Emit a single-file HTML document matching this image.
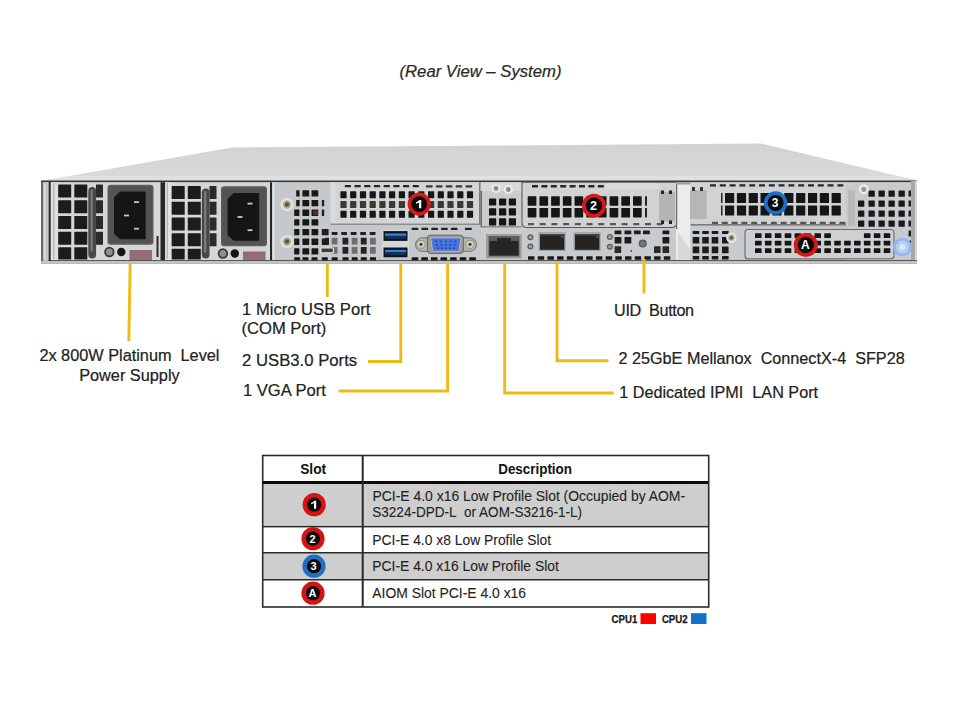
<!DOCTYPE html>
<html><head><meta charset="utf-8"><title>Rear View</title>
<style>
html,body{margin:0;padding:0;background:#fff;}
body{width:960px;height:720px;overflow:hidden;}
svg{display:block;font-family:"Liberation Sans",sans-serif;}
</style></head><body>
<svg width="960" height="720" viewBox="0 0 960 720">
<defs>
<linearGradient id="lid" x1="0" y1="0" x2="0" y2="1">
<stop offset="0" stop-color="#d2d2d2"/><stop offset="1" stop-color="#dadada"/>
</linearGradient>
</defs>
<rect x="0" y="0" width="960" height="720" fill="#fff"/>

<text x="399.5" y="76.8" font-size="16.7" fill="#2a2a2a" stroke="#2a2a2a" stroke-width="0.22" font-style="italic">(Rear View – System)</text>
<clipPath id="lidc"><polygon points="41,181 232,147.5 761,143.5 917,180.5"/></clipPath>
<polygon points="41,181 232,147.5 761,143.5 917,180.5" fill="url(#lid)"/>
<g clip-path="url(#lidc)">
<rect x="41.0" y="176.0" width="876.0" height="5.0" fill="#e0e0e0" />
</g>
<rect x="41.0" y="181.0" width="876.0" height="82.5" fill="#c4c6c8" />
<rect x="41.0" y="180.5" width="876.0" height="1.8" fill="#383838" />
<rect x="41.0" y="259.8" width="876.0" height="1.5" fill="#5a5a5a" />
<rect x="41.0" y="261.3" width="876.0" height="1.9" fill="#c8c8c8" />
<rect x="41.0" y="263.0" width="876.0" height="0.8" fill="#b0b0b0" />
<rect x="41.0" y="182.0" width="2.3" height="79.0" fill="#6a6a6a" />
<rect x="43.3" y="182.0" width="5.4" height="79.0" fill="#c6c6c6" />
<rect x="44.0" y="184.0" width="1.5" height="75.0" fill="#dedede" />
<rect x="48.7" y="182.0" width="2.1" height="79.0" fill="#262626" />
<rect x="50.8" y="182.3" width="1.7" height="77.7" fill="#dfe4e6" />
<rect x="52.0" y="182.3" width="109.0" height="77.7" fill="#d6d6d6" />
<rect x="52.0" y="182.3" width="5.5" height="77.7" fill="#e2e2e2" />
<rect x="53.0" y="183.0" width="1.5" height="76.0" fill="#b8b8b8" />
<rect x="58.2" y="184.6" width="13.0" height="13.0" fill="#1c1c1c" rx="0.5"/>
<rect x="58.2" y="200.3" width="13.0" height="13.0" fill="#1c1c1c" rx="0.5"/>
<rect x="58.2" y="216.0" width="13.0" height="13.0" fill="#1c1c1c" rx="0.5"/>
<rect x="58.2" y="231.7" width="13.0" height="13.0" fill="#1c1c1c" rx="0.5"/>
<rect x="74.3" y="184.6" width="13.0" height="13.0" fill="#1c1c1c" rx="0.5"/>
<rect x="74.3" y="200.3" width="13.0" height="13.0" fill="#1c1c1c" rx="0.5"/>
<rect x="74.3" y="216.0" width="13.0" height="13.0" fill="#1c1c1c" rx="0.5"/>
<rect x="74.3" y="231.7" width="13.0" height="13.0" fill="#1c1c1c" rx="0.5"/>
<rect x="58.2" y="247.3" width="13.0" height="12.2" fill="#1c1c1c" rx="0.5"/>
<rect x="74.3" y="247.3" width="13.0" height="12.2" fill="#1c1c1c" rx="0.5"/>
<rect x="96.0" y="184.6" width="7.0" height="13.0" fill="#2a2a26" rx="0.5"/>
<rect x="96.0" y="200.3" width="7.0" height="13.0" fill="#2a2a26" rx="0.5"/>
<rect x="96.0" y="216.0" width="7.0" height="13.0" fill="#2a2a26" rx="0.5"/>
<rect x="96.0" y="231.7" width="7.0" height="13.0" fill="#2a2a26" rx="0.5"/>
<rect x="88.3" y="187.0" width="7.8" height="71.5" rx="3.9" fill="#484848"/>
<rect x="90.6" y="189.5" width="2.2" height="62" rx="1.1" fill="#7c7c7c"/>
<rect x="107.5" y="184.8" width="46" height="60" rx="3" fill="#5c5c5c"/>
<rect x="109.0" y="186.3" width="43" height="57" rx="2" fill="#535353"/>
<path d="M120.0,191.5 L145.7,191.5 L145.7,239.3 L120.0,239.3 L114.0,233.5 L114.0,197.5 Z" fill="#151515"/>
<rect x="134.0" y="201.2" width="5.0" height="1.8" fill="#c8c8c8" />
<rect x="124.0" y="214.6" width="5.0" height="1.8" fill="#c8c8c8" />
<rect x="134.0" y="227.8" width="5.0" height="1.8" fill="#c8c8c8" />
<circle cx="109.4" cy="252.0" r="5.2" fill="#3a3a3a" />
<circle cx="109.4" cy="252.0" r="3.4" fill="#8e8e8e" />
<circle cx="121.3" cy="252.0" r="4.2" fill="#141414" />
<rect x="129.5" y="250.0" width="22.5" height="10.0" fill="#946c74" />
<rect x="154.0" y="183.0" width="7.0" height="77.0" fill="#d8d8d8" />
<rect x="156.5" y="236.0" width="2.0" height="21.0" fill="#2a2a2a" />
<rect x="165.5" y="182.3" width="109.0" height="77.7" fill="#d6d6d6" />
<rect x="165.5" y="182.3" width="5.5" height="77.7" fill="#e2e2e2" />
<rect x="166.5" y="183.0" width="1.5" height="76.0" fill="#b8b8b8" />
<rect x="171.7" y="186.1" width="13.0" height="13.0" fill="#1c1c1c" rx="0.5"/>
<rect x="171.7" y="201.8" width="13.0" height="13.0" fill="#1c1c1c" rx="0.5"/>
<rect x="171.7" y="217.5" width="13.0" height="13.0" fill="#1c1c1c" rx="0.5"/>
<rect x="171.7" y="233.2" width="13.0" height="13.0" fill="#1c1c1c" rx="0.5"/>
<rect x="187.8" y="186.1" width="13.0" height="13.0" fill="#1c1c1c" rx="0.5"/>
<rect x="187.8" y="201.8" width="13.0" height="13.0" fill="#1c1c1c" rx="0.5"/>
<rect x="187.8" y="217.5" width="13.0" height="13.0" fill="#1c1c1c" rx="0.5"/>
<rect x="187.8" y="233.2" width="13.0" height="13.0" fill="#1c1c1c" rx="0.5"/>
<rect x="171.7" y="248.8" width="13.0" height="10.7" fill="#1c1c1c" rx="0.5"/>
<rect x="187.8" y="248.8" width="13.0" height="10.7" fill="#1c1c1c" rx="0.5"/>
<rect x="209.5" y="186.1" width="7.0" height="13.0" fill="#2a2a26" rx="0.5"/>
<rect x="209.5" y="201.8" width="7.0" height="13.0" fill="#2a2a26" rx="0.5"/>
<rect x="209.5" y="217.5" width="7.0" height="13.0" fill="#2a2a26" rx="0.5"/>
<rect x="209.5" y="233.2" width="7.0" height="13.0" fill="#2a2a26" rx="0.5"/>
<rect x="201.8" y="188.5" width="7.8" height="70.0" rx="3.9" fill="#484848"/>
<rect x="204.1" y="191.0" width="2.2" height="62" rx="1.1" fill="#7c7c7c"/>
<rect x="221.0" y="186.3" width="46" height="60" rx="3" fill="#5c5c5c"/>
<rect x="222.5" y="187.8" width="43" height="57" rx="2" fill="#535353"/>
<path d="M233.5,193.0 L259.2,193.0 L259.2,240.8 L233.5,240.8 L227.5,235.0 L227.5,199.0 Z" fill="#151515"/>
<rect x="247.5" y="202.7" width="5.0" height="1.8" fill="#c8c8c8" />
<rect x="237.5" y="216.1" width="5.0" height="1.8" fill="#c8c8c8" />
<rect x="247.5" y="229.3" width="5.0" height="1.8" fill="#c8c8c8" />
<circle cx="222.9" cy="253.5" r="5.2" fill="#3a3a3a" />
<circle cx="222.9" cy="253.5" r="3.4" fill="#8e8e8e" />
<circle cx="234.8" cy="253.5" r="4.2" fill="#141414" />
<rect x="243.0" y="251.5" width="22.5" height="8.5" fill="#946c74" />
<rect x="267.5" y="183.0" width="7.0" height="77.0" fill="#d8d8d8" />
<rect x="270.0" y="237.5" width="2.0" height="19.5" fill="#2a2a2a" />
<rect x="160.5" y="182.3" width="4.5" height="77.7" fill="#262626" />
<rect x="270.0" y="182.3" width="2.4" height="77.7" fill="#262626" />
<rect x="272.4" y="182.3" width="208.1" height="77.5" fill="#c6c9cc" />
<rect x="272.4" y="182.3" width="2.1" height="77.5" fill="#e0e4e6" />
<rect x="302.4" y="190.2" width="6.8" height="6.3" fill="#181818" rx="0.6"/>
<rect x="302.4" y="200.0" width="6.8" height="6.3" fill="#181818" rx="0.6"/>
<rect x="302.4" y="209.6" width="6.8" height="6.3" fill="#181818" rx="0.6"/>
<rect x="302.4" y="219.3" width="6.8" height="6.3" fill="#181818" rx="0.6"/>
<rect x="302.4" y="229.0" width="6.8" height="6.3" fill="#181818" rx="0.6"/>
<rect x="302.4" y="238.6" width="6.8" height="6.3" fill="#181818" rx="0.6"/>
<rect x="302.4" y="248.3" width="6.8" height="6.3" fill="#181818" rx="0.6"/>
<rect x="311.5" y="190.2" width="6.8" height="6.3" fill="#181818" rx="0.6"/>
<rect x="311.5" y="200.0" width="6.8" height="6.3" fill="#181818" rx="0.6"/>
<rect x="311.5" y="209.6" width="6.8" height="6.3" fill="#181818" rx="0.6"/>
<rect x="311.5" y="219.3" width="6.8" height="6.3" fill="#181818" rx="0.6"/>
<rect x="311.5" y="229.0" width="6.8" height="6.3" fill="#181818" rx="0.6"/>
<rect x="311.5" y="238.6" width="6.8" height="6.3" fill="#181818" rx="0.6"/>
<rect x="311.5" y="248.3" width="6.8" height="6.3" fill="#181818" rx="0.6"/>
<rect x="294.2" y="209.6" width="5.2" height="6.3" fill="#181818" rx="0.5"/>
<rect x="294.2" y="219.3" width="5.2" height="6.3" fill="#181818" rx="0.5"/>
<rect x="294.2" y="229.0" width="5.2" height="6.3" fill="#181818" rx="0.5"/>
<rect x="294.2" y="238.6" width="5.2" height="6.3" fill="#181818" rx="0.5"/>
<rect x="294.2" y="248.3" width="5.2" height="6.3" fill="#181818" rx="0.5"/>
<rect x="296.2" y="190.2" width="3.4" height="6.3" fill="#181818" rx="0.4"/>
<rect x="296.2" y="200.0" width="3.4" height="6.3" fill="#181818" rx="0.4"/>
<rect x="321.8" y="200.0" width="2.4" height="6.3" fill="#222" rx="0.3"/>
<rect x="321.8" y="209.6" width="2.4" height="6.3" fill="#222" rx="0.3"/>
<rect x="321.8" y="229.0" width="6.8" height="6.3" fill="#1e1e1e" rx="0.5"/>
<rect x="321.8" y="238.6" width="6.8" height="6.3" fill="#1e1e1e" rx="0.5"/>
<rect x="313.0" y="210.5" width="5.0" height="4.5" fill="#5a2a30" />
<circle cx="287.0" cy="204.5" r="6.6" fill="#e6e4dc" />
<circle cx="287.0" cy="204.5" r="4.2" fill="#b0aa98" />
<circle cx="287.0" cy="204.5" r="2.2" fill="#5a564a" />
<circle cx="287.0" cy="241.5" r="6.6" fill="#e6e4dc" />
<circle cx="287.0" cy="241.5" r="4.2" fill="#b0aa98" />
<circle cx="287.0" cy="241.5" r="2.2" fill="#5a564a" />
<rect x="330.5" y="182.3" width="149.8" height="42.2" fill="#d2d4d6" />
<rect x="330.5" y="182.3" width="5.5" height="42.2" fill="#dadada" />
<rect x="330.5" y="223.5" width="149.8" height="1.5" fill="#8e8e8e" />
<rect x="479.0" y="182.3" width="2.0" height="42.7" fill="#7a7a7a" />
<rect x="344.8" y="185.0" width="6.2" height="2.3" fill="#262626" rx="0.3"/>
<rect x="354.5" y="185.0" width="6.2" height="2.3" fill="#262626" rx="0.3"/>
<rect x="364.2" y="185.0" width="6.2" height="2.3" fill="#262626" rx="0.3"/>
<rect x="373.9" y="185.0" width="6.2" height="2.3" fill="#262626" rx="0.3"/>
<rect x="383.6" y="185.0" width="6.2" height="2.3" fill="#262626" rx="0.3"/>
<rect x="393.3" y="185.0" width="6.2" height="2.3" fill="#262626" rx="0.3"/>
<rect x="403.0" y="185.0" width="6.2" height="2.3" fill="#262626" rx="0.3"/>
<rect x="412.7" y="185.0" width="6.2" height="2.3" fill="#262626" rx="0.3"/>
<rect x="426.0" y="185.2" width="6.6" height="2.2" fill="#3a3a3a" rx="0.3"/>
<rect x="435.9" y="185.2" width="6.6" height="2.2" fill="#3a3a3a" rx="0.3"/>
<rect x="445.8" y="185.2" width="6.6" height="2.2" fill="#3a3a3a" rx="0.3"/>
<rect x="455.7" y="185.2" width="6.6" height="2.2" fill="#3a3a3a" rx="0.3"/>
<rect x="465.6" y="185.2" width="6.6" height="2.2" fill="#3a3a3a" rx="0.3"/>
<rect x="340.4" y="191.3" width="6.2" height="7.0" fill="#161616" rx="0.6"/>
<rect x="340.4" y="210.8" width="6.2" height="7.0" fill="#161616" rx="0.6"/>
<rect x="350.1" y="191.3" width="6.2" height="7.0" fill="#161616" rx="0.6"/>
<rect x="350.1" y="210.8" width="6.2" height="7.0" fill="#161616" rx="0.6"/>
<rect x="359.9" y="191.3" width="6.2" height="7.0" fill="#161616" rx="0.6"/>
<rect x="359.9" y="210.8" width="6.2" height="7.0" fill="#161616" rx="0.6"/>
<rect x="369.6" y="191.3" width="6.2" height="7.0" fill="#161616" rx="0.6"/>
<rect x="369.6" y="210.8" width="6.2" height="7.0" fill="#161616" rx="0.6"/>
<rect x="379.3" y="191.3" width="6.2" height="7.0" fill="#161616" rx="0.6"/>
<rect x="379.3" y="210.8" width="6.2" height="7.0" fill="#161616" rx="0.6"/>
<rect x="389.0" y="191.3" width="6.2" height="7.0" fill="#161616" rx="0.6"/>
<rect x="389.0" y="210.8" width="6.2" height="7.0" fill="#161616" rx="0.6"/>
<rect x="398.8" y="191.3" width="6.2" height="7.0" fill="#161616" rx="0.6"/>
<rect x="398.8" y="210.8" width="6.2" height="7.0" fill="#161616" rx="0.6"/>
<rect x="408.5" y="191.3" width="6.2" height="7.0" fill="#161616" rx="0.6"/>
<rect x="408.5" y="210.8" width="6.2" height="7.0" fill="#161616" rx="0.6"/>
<rect x="418.2" y="191.3" width="6.2" height="7.0" fill="#161616" rx="0.6"/>
<rect x="418.2" y="210.8" width="6.2" height="7.0" fill="#161616" rx="0.6"/>
<rect x="428.0" y="191.3" width="6.2" height="7.0" fill="#161616" rx="0.6"/>
<rect x="428.0" y="210.8" width="6.2" height="7.0" fill="#161616" rx="0.6"/>
<rect x="437.7" y="191.3" width="6.2" height="7.0" fill="#161616" rx="0.6"/>
<rect x="437.7" y="210.8" width="6.2" height="7.0" fill="#161616" rx="0.6"/>
<rect x="447.4" y="191.3" width="6.2" height="7.0" fill="#161616" rx="0.6"/>
<rect x="447.4" y="210.8" width="6.2" height="7.0" fill="#161616" rx="0.6"/>
<rect x="457.2" y="191.3" width="6.2" height="7.0" fill="#161616" rx="0.6"/>
<rect x="457.2" y="210.8" width="6.2" height="7.0" fill="#161616" rx="0.6"/>
<rect x="466.9" y="191.3" width="6.2" height="7.0" fill="#161616" rx="0.6"/>
<rect x="466.9" y="210.8" width="6.2" height="7.0" fill="#161616" rx="0.6"/>
<rect x="340.4" y="201.0" width="6.2" height="7.0" fill="#3a3a30" rx="0.6"/>
<rect x="350.1" y="201.0" width="6.2" height="7.0" fill="#3a3a30" rx="0.6"/>
<rect x="359.9" y="201.0" width="6.2" height="7.0" fill="#3a3a30" rx="0.6"/>
<rect x="369.6" y="201.0" width="6.2" height="7.0" fill="#3a3a30" rx="0.6"/>
<rect x="379.3" y="201.0" width="6.2" height="7.0" fill="#3a3a30" rx="0.6"/>
<rect x="389.0" y="201.0" width="6.2" height="7.0" fill="#3a3a30" rx="0.6"/>
<rect x="398.8" y="201.0" width="6.2" height="7.0" fill="#3a3a30" rx="0.6"/>
<rect x="408.5" y="201.0" width="6.2" height="7.0" fill="#3a3a30" rx="0.6"/>
<rect x="418.2" y="201.0" width="6.2" height="7.0" fill="#3a3a30" rx="0.6"/>
<rect x="428.0" y="201.0" width="6.2" height="7.0" fill="#3a3a30" rx="0.6"/>
<rect x="437.7" y="201.0" width="6.2" height="7.0" fill="#3a3a30" rx="0.6"/>
<rect x="447.4" y="201.0" width="6.2" height="7.0" fill="#3a3a30" rx="0.6"/>
<rect x="457.2" y="201.0" width="6.2" height="7.0" fill="#3a3a30" rx="0.6"/>
<rect x="466.9" y="201.0" width="6.2" height="7.0" fill="#3a3a30" rx="0.6"/>
<circle cx="419.2" cy="204.1" r="11.6" fill="#d81818" />
<circle cx="419.2" cy="204.1" r="7.9" fill="#0a0a0a" />
<path d="M421.27,199.96 L421.27,208.24 L418.97,208.24 L418.97,202.44 Q417.59,203.44 415.98,203.60 L415.98,202.20 Q418.28,201.45 419.43,199.96 Z" fill="#fff"/>
<rect x="411.7" y="227.8" width="6.6" height="2.2" fill="#202020" rx="0.3"/>
<rect x="421.5" y="227.8" width="6.6" height="2.2" fill="#202020" rx="0.3"/>
<rect x="431.3" y="227.8" width="6.6" height="2.2" fill="#202020" rx="0.3"/>
<rect x="441.1" y="227.8" width="6.6" height="2.2" fill="#202020" rx="0.3"/>
<rect x="450.9" y="227.8" width="6.6" height="2.2" fill="#202020" rx="0.3"/>
<rect x="465.0" y="227.8" width="6.7" height="2.2" fill="#202020" />
<rect x="331.7" y="232.0" width="5.8" height="3.0" fill="#202020" rx="0.4"/>
<rect x="341.2" y="232.0" width="5.8" height="3.0" fill="#202020" rx="0.4"/>
<rect x="350.7" y="232.0" width="5.8" height="3.0" fill="#202020" rx="0.4"/>
<rect x="360.2" y="232.0" width="5.8" height="3.0" fill="#202020" rx="0.4"/>
<rect x="369.7" y="232.0" width="5.8" height="3.0" fill="#202020" rx="0.4"/>
<rect x="325.0" y="237.8" width="4.0" height="6.7" fill="#1e1e1e" />
<rect x="331.7" y="237.8" width="5.8" height="6.7" fill="#6e6e6e" rx="0.5"/>
<rect x="331.7" y="247.0" width="5.8" height="6.7" fill="#6e6e6e" rx="0.5"/>
<rect x="351.7" y="237.8" width="5.8" height="6.7" fill="#6e6e6e" rx="0.5"/>
<rect x="351.7" y="247.0" width="5.8" height="6.7" fill="#6e6e6e" rx="0.5"/>
<rect x="370.0" y="237.8" width="5.8" height="6.7" fill="#6e6e6e" rx="0.5"/>
<rect x="370.0" y="247.0" width="5.8" height="6.7" fill="#6e6e6e" rx="0.5"/>
<rect x="342.5" y="237.8" width="5.8" height="6.7" fill="#222" rx="0.5"/>
<rect x="342.5" y="247.0" width="5.8" height="6.7" fill="#222" rx="0.5"/>
<rect x="360.8" y="237.8" width="5.8" height="6.7" fill="#222" rx="0.5"/>
<rect x="360.8" y="247.0" width="5.8" height="6.7" fill="#222" rx="0.5"/>
<rect x="294.2" y="257.2" width="6.0" height="3.0" fill="#181818" rx="0.4"/>
<rect x="302.4" y="257.2" width="6.0" height="3.0" fill="#181818" rx="0.4"/>
<rect x="311.5" y="257.2" width="6.0" height="3.0" fill="#181818" rx="0.4"/>
<rect x="321.8" y="257.2" width="6.0" height="3.0" fill="#181818" rx="0.4"/>
<rect x="331.7" y="257.2" width="6.0" height="3.0" fill="#181818" rx="0.4"/>
<rect x="342.5" y="257.2" width="6.0" height="3.0" fill="#181818" rx="0.4"/>
<rect x="351.7" y="257.2" width="6.0" height="3.0" fill="#181818" rx="0.4"/>
<rect x="360.8" y="257.2" width="6.0" height="3.0" fill="#181818" rx="0.4"/>
<rect x="370.0" y="257.2" width="6.0" height="3.0" fill="#181818" rx="0.4"/>
<rect x="320.3" y="247.5" width="13.7" height="5.7" fill="#e4e4e4" />
<rect x="321.5" y="248.5" width="11.3" height="3.7" fill="#3c3c3c" />
<rect x="382.3" y="229.8" width="26.7" height="28.2" fill="#d6d8da" />
<rect x="383.5" y="231.1" width="24.0" height="9.8" fill="#0c141e" />
<rect x="385.0" y="233.4" width="21.0" height="2.5" fill="#3c7ad4" />
<rect x="385.0" y="235.9" width="21.0" height="3.0" fill="#12305c" />
<rect x="383.5" y="247.5" width="24.0" height="9.8" fill="#0c141e" />
<rect x="385.0" y="249.8" width="21.0" height="2.5" fill="#3c7ad4" />
<rect x="385.0" y="252.3" width="21.0" height="3.0" fill="#12305c" />
<rect x="415.5" y="237.8" width="61" height="13.6" rx="6.8" fill="#b4b2aa" stroke="#6a6a64" stroke-width="0.9"/>
<rect x="427.5" y="235.2" width="35.8" height="18.2" rx="3" fill="#a09e98" stroke="#5a5a56" stroke-width="0.9"/>
<path d="M431.5,238 L460.2,238 Q461,238 460.8,239 L458.8,250.6 Q458.6,251.3 457.8,251.3 L433.8,251.3 Q433,251.3 432.8,250.6 L430.9,239 Q430.7,238 431.5,238 Z" fill="#4a74dc" stroke="#c8d0e0" stroke-width="0.6"/>
<circle cx="436.2" cy="241.3" r="0.9" fill="#1e3e98" />
<circle cx="441.0" cy="241.3" r="0.9" fill="#1e3e98" />
<circle cx="445.8" cy="241.3" r="0.9" fill="#1e3e98" />
<circle cx="450.6" cy="241.3" r="0.9" fill="#1e3e98" />
<circle cx="455.4" cy="241.3" r="0.9" fill="#1e3e98" />
<circle cx="437.0" cy="244.8" r="0.9" fill="#1e3e98" />
<circle cx="441.4" cy="244.8" r="0.9" fill="#1e3e98" />
<circle cx="445.8" cy="244.8" r="0.9" fill="#1e3e98" />
<circle cx="450.2" cy="244.8" r="0.9" fill="#1e3e98" />
<circle cx="454.6" cy="244.8" r="0.9" fill="#1e3e98" />
<circle cx="437.8" cy="248.2" r="0.9" fill="#1e3e98" />
<circle cx="441.8" cy="248.2" r="0.9" fill="#1e3e98" />
<circle cx="445.8" cy="248.2" r="0.9" fill="#1e3e98" />
<circle cx="449.8" cy="248.2" r="0.9" fill="#1e3e98" />
<circle cx="453.8" cy="248.2" r="0.9" fill="#1e3e98" />
<polygon points="416.6,244.3 418.8,240.5 423.2,240.5 425.4,244.3 423.2,248.1 418.8,248.1" fill="#d6d4c8" stroke="#7a786e" stroke-width="0.6"/>
<circle cx="421.0" cy="244.3" r="1.6" fill="#3a3a34" />
<polygon points="465.6,244.3 467.8,240.5 472.2,240.5 474.4,244.3 472.2,248.1 467.8,248.1" fill="#d6d4c8" stroke="#7a786e" stroke-width="0.6"/>
<circle cx="470.0" cy="244.3" r="1.6" fill="#3a3a34" />
<rect x="411.7" y="257.2" width="6.6" height="3.0" fill="#181818" rx="0.4"/>
<rect x="421.3" y="257.2" width="6.6" height="3.0" fill="#181818" rx="0.4"/>
<rect x="430.9" y="257.2" width="6.6" height="3.0" fill="#181818" rx="0.4"/>
<rect x="440.5" y="257.2" width="6.6" height="3.0" fill="#181818" rx="0.4"/>
<rect x="450.1" y="257.2" width="6.6" height="3.0" fill="#181818" rx="0.4"/>
<rect x="459.7" y="257.2" width="6.6" height="3.0" fill="#181818" rx="0.4"/>
<rect x="469.3" y="257.2" width="6.6" height="3.0" fill="#181818" rx="0.4"/>
<rect x="480.5" y="182.3" width="41.5" height="77.5" fill="#caccce" />
<rect x="481.0" y="182.3" width="43.0" height="8.7" fill="#d8d8d8" />
<rect x="480.5" y="191.0" width="1.5" height="36.0" fill="#6a6a6a" />
<rect x="480.5" y="226.0" width="41.5" height="1.5" fill="#8a8a8a" />
<circle cx="496.0" cy="188.5" r="4.6" fill="#ececec" />
<circle cx="496.0" cy="188.5" r="2.4" fill="#8a8a8a" />
<circle cx="508.3" cy="189.5" r="4.6" fill="#ececec" />
<circle cx="508.3" cy="189.5" r="2.4" fill="#8a8a8a" />
<rect x="489.0" y="198.4" width="7.2" height="7.2" fill="#161616" rx="0.6"/>
<rect x="489.0" y="208.3" width="7.2" height="7.2" fill="#161616" rx="0.6"/>
<rect x="489.0" y="218.3" width="7.2" height="7.2" fill="#161616" rx="0.6"/>
<rect x="499.0" y="198.4" width="7.2" height="7.2" fill="#161616" rx="0.6"/>
<rect x="499.0" y="208.3" width="7.2" height="7.2" fill="#161616" rx="0.6"/>
<rect x="499.0" y="218.3" width="7.2" height="7.2" fill="#161616" rx="0.6"/>
<rect x="508.8" y="198.4" width="7.2" height="7.2" fill="#161616" rx="0.6"/>
<rect x="508.8" y="208.3" width="7.2" height="7.2" fill="#161616" rx="0.6"/>
<rect x="508.8" y="218.3" width="7.2" height="7.2" fill="#161616" rx="0.6"/>
<rect x="486.0" y="234.0" width="35.7" height="24.5" fill="#9c9ea0" />
<rect x="488.5" y="236.0" width="31.0" height="20.5" fill="#5c5c5c" />
<path d="M489.5,241 L497,241 L497,238 L511,238 L511,241 L518.5,241 L518.5,255.5 L489.5,255.5 Z" fill="#262626"/>
<path d="M522,182.3 L677,182.3 L677,222 Q677,227.5 671,227.5 L527,227.5 Q522,227.5 522,222 Z" fill="#d0d2d4" stroke="#5a5a5a" stroke-width="1.1"/>
<rect x="532.0" y="185.0" width="6.0" height="2.6" fill="#262626" rx="0.3"/>
<rect x="541.4" y="185.0" width="6.0" height="2.6" fill="#262626" rx="0.3"/>
<rect x="550.8" y="185.0" width="6.0" height="2.6" fill="#262626" rx="0.3"/>
<rect x="560.2" y="185.0" width="6.0" height="2.6" fill="#262626" rx="0.3"/>
<rect x="569.6" y="185.0" width="6.0" height="2.6" fill="#262626" rx="0.3"/>
<rect x="579.0" y="185.0" width="6.0" height="2.6" fill="#262626" rx="0.3"/>
<rect x="588.4" y="185.0" width="6.0" height="2.6" fill="#262626" rx="0.3"/>
<rect x="597.8" y="185.0" width="6.0" height="2.6" fill="#262626" rx="0.3"/>
<rect x="606.0" y="183.0" width="54.0" height="6.0" fill="#d8dadc" />
<rect x="527.7" y="196.3" width="8.7" height="9.4" fill="#161616" rx="0.6"/>
<rect x="527.7" y="208.0" width="8.7" height="9.4" fill="#161616" rx="0.6"/>
<rect x="539.4" y="196.3" width="8.7" height="9.4" fill="#161616" rx="0.6"/>
<rect x="539.4" y="208.0" width="8.7" height="9.4" fill="#161616" rx="0.6"/>
<rect x="551.1" y="196.3" width="8.7" height="9.4" fill="#161616" rx="0.6"/>
<rect x="551.1" y="208.0" width="8.7" height="9.4" fill="#161616" rx="0.6"/>
<rect x="562.8" y="196.3" width="8.7" height="9.4" fill="#161616" rx="0.6"/>
<rect x="562.8" y="208.0" width="8.7" height="9.4" fill="#161616" rx="0.6"/>
<rect x="574.5" y="196.3" width="8.7" height="9.4" fill="#161616" rx="0.6"/>
<rect x="574.5" y="208.0" width="8.7" height="9.4" fill="#161616" rx="0.6"/>
<rect x="586.2" y="196.3" width="8.7" height="9.4" fill="#161616" rx="0.6"/>
<rect x="586.2" y="208.0" width="8.7" height="9.4" fill="#161616" rx="0.6"/>
<rect x="597.9" y="196.3" width="8.7" height="9.4" fill="#161616" rx="0.6"/>
<rect x="597.9" y="208.0" width="8.7" height="9.4" fill="#161616" rx="0.6"/>
<rect x="609.6" y="196.3" width="8.7" height="9.4" fill="#161616" rx="0.6"/>
<rect x="609.6" y="208.0" width="8.7" height="9.4" fill="#161616" rx="0.6"/>
<rect x="621.3" y="196.3" width="8.7" height="9.4" fill="#161616" rx="0.6"/>
<rect x="621.3" y="208.0" width="8.7" height="9.4" fill="#161616" rx="0.6"/>
<rect x="633.0" y="196.3" width="8.7" height="9.4" fill="#161616" rx="0.6"/>
<rect x="633.0" y="208.0" width="8.7" height="9.4" fill="#161616" rx="0.6"/>
<rect x="645.0" y="196.3" width="2.0" height="9.4" fill="#222" />
<rect x="645.0" y="208.0" width="2.0" height="9.4" fill="#222" />
<rect x="528.0" y="223.0" width="6.0" height="2.2" fill="#555" rx="0.3"/>
<rect x="539.7" y="223.0" width="6.0" height="2.2" fill="#555" rx="0.3"/>
<rect x="551.4" y="223.0" width="6.0" height="2.2" fill="#555" rx="0.3"/>
<rect x="563.1" y="223.0" width="6.0" height="2.2" fill="#555" rx="0.3"/>
<rect x="574.8" y="223.0" width="6.0" height="2.2" fill="#555" rx="0.3"/>
<rect x="586.5" y="223.0" width="6.0" height="2.2" fill="#555" rx="0.3"/>
<rect x="598.2" y="223.0" width="6.0" height="2.2" fill="#555" rx="0.3"/>
<rect x="609.9" y="223.0" width="6.0" height="2.2" fill="#555" rx="0.3"/>
<rect x="621.6" y="223.0" width="6.0" height="2.2" fill="#555" rx="0.3"/>
<rect x="633.3" y="223.0" width="6.0" height="2.2" fill="#555" rx="0.3"/>
<rect x="645.0" y="223.0" width="6.0" height="2.2" fill="#555" rx="0.3"/>
<rect x="656.7" y="223.0" width="6.0" height="2.2" fill="#555" rx="0.3"/>
<rect x="659.0" y="191.7" width="16.0" height="30.0" fill="#b2b4b6" />
<rect x="661.0" y="190.5" width="3.0" height="3.5" fill="#222" />
<rect x="669.0" y="190.5" width="3.0" height="3.5" fill="#222" />
<rect x="661.0" y="220.5" width="3.0" height="3.5" fill="#222" />
<rect x="669.0" y="220.5" width="3.0" height="3.5" fill="#222" />
<circle cx="594.0" cy="205.7" r="12.0" fill="#d81818" />
<circle cx="594.0" cy="205.7" r="8.2" fill="#0a0a0a" />
<text x="593.5" y="210.2" font-size="12.5" font-weight="bold" fill="#fff" text-anchor="middle">2</text>
<rect x="522.0" y="228.5" width="155.0" height="31.3" fill="#c8cbcd" />
<rect x="538.4" y="232.0" width="27.4" height="19.0" fill="#a6a8aa" />
<rect x="539.9" y="234.2" width="24.5" height="15.6" fill="#262422" />
<rect x="539.9" y="234.2" width="24.5" height="1.4" fill="#4a4846" />
<circle cx="562.4" cy="236.8" r="1.2" fill="#5a5a5a" />
<rect x="573.4" y="232.0" width="27.4" height="19.0" fill="#a6a8aa" />
<rect x="574.9" y="234.2" width="24.5" height="15.6" fill="#262422" />
<rect x="574.9" y="234.2" width="24.5" height="1.4" fill="#4a4846" />
<circle cx="597.4" cy="236.8" r="1.2" fill="#5a5a5a" />
<circle cx="530.4" cy="237.3" r="3.0" fill="#5a5a5a" />
<circle cx="530.4" cy="237.3" r="1.8" fill="#a0a0a0" />
<circle cx="530.4" cy="246.5" r="3.0" fill="#5a5a5a" />
<circle cx="530.4" cy="246.5" r="1.8" fill="#a0a0a0" />
<circle cx="609.9" cy="236.9" r="3.0" fill="#5a5a5a" />
<circle cx="609.9" cy="236.9" r="1.8" fill="#a0a0a0" />
<circle cx="609.9" cy="246.8" r="3.0" fill="#5a5a5a" />
<circle cx="609.9" cy="246.8" r="1.8" fill="#a0a0a0" />
<rect x="614.6" y="230.6" width="6.8" height="3.7" fill="#1c1c1c" rx="0.4"/>
<rect x="624.5" y="230.6" width="6.8" height="3.7" fill="#1c1c1c" rx="0.4"/>
<rect x="633.9" y="230.6" width="6.8" height="3.7" fill="#1c1c1c" rx="0.4"/>
<rect x="643.0" y="230.6" width="6.8" height="3.7" fill="#1c1c1c" rx="0.4"/>
<rect x="662.5" y="230.6" width="6.8" height="3.7" fill="#1c1c1c" rx="0.4"/>
<rect x="614.6" y="236.9" width="6.8" height="6.7" fill="#1c1c1c" rx="0.5"/>
<rect x="624.5" y="236.9" width="6.8" height="6.7" fill="#1c1c1c" rx="0.5"/>
<rect x="662.5" y="236.9" width="6.8" height="6.7" fill="#1c1c1c" rx="0.5"/>
<rect x="614.6" y="246.2" width="6.6" height="6.7" fill="#2a2a22" rx="0.5"/>
<rect x="654.0" y="246.2" width="6.6" height="6.7" fill="#2a2a22" rx="0.5"/>
<rect x="662.5" y="246.2" width="6.6" height="6.7" fill="#2a2a22" rx="0.5"/>
<circle cx="642.7" cy="243.6" r="4.0" fill="#5a5a5a" />
<circle cx="642.7" cy="243.6" r="2.6" fill="#777" />
<circle cx="631.3" cy="251.0" r="0.9" fill="#444" />
<rect x="528.0" y="256.2" width="6.5" height="3.5" fill="#181818" rx="0.4"/>
<rect x="537.7" y="256.2" width="6.5" height="3.5" fill="#181818" rx="0.4"/>
<rect x="547.4" y="256.2" width="6.5" height="3.5" fill="#181818" rx="0.4"/>
<rect x="557.1" y="256.2" width="6.5" height="3.5" fill="#181818" rx="0.4"/>
<rect x="566.8" y="256.2" width="6.5" height="3.5" fill="#181818" rx="0.4"/>
<rect x="576.5" y="256.2" width="6.5" height="3.5" fill="#181818" rx="0.4"/>
<rect x="586.2" y="256.2" width="6.5" height="3.5" fill="#181818" rx="0.4"/>
<rect x="595.9" y="256.2" width="6.5" height="3.5" fill="#181818" rx="0.4"/>
<rect x="605.6" y="256.2" width="6.5" height="3.5" fill="#181818" rx="0.4"/>
<rect x="615.3" y="256.2" width="6.5" height="3.5" fill="#181818" rx="0.4"/>
<rect x="625.0" y="256.2" width="6.5" height="3.5" fill="#181818" rx="0.4"/>
<rect x="634.7" y="256.2" width="6.5" height="3.5" fill="#181818" rx="0.4"/>
<rect x="644.4" y="256.2" width="6.5" height="3.5" fill="#181818" rx="0.4"/>
<rect x="654.1" y="256.2" width="6.5" height="3.5" fill="#181818" rx="0.4"/>
<rect x="663.8" y="256.2" width="6.5" height="3.5" fill="#181818" rx="0.4"/>
<rect x="676.0" y="182.3" width="14.5" height="77.5" fill="#ececec" />
<rect x="676.0" y="183.0" width="1.2" height="46.0" fill="#6a6a6a" />
<rect x="676.0" y="182.3" width="14.5" height="2.2" fill="#9a9a9a" />
<path d="M678,232 L690.5,250 L690.5,259.8 L678,259.8 Z" fill="#d8d8d8"/>
<rect x="690.5" y="182.3" width="155.5" height="42.2" fill="#d0d2d4" />
<rect x="690.5" y="224.0" width="155.5" height="1.6" fill="#7a7a7a" />
<rect x="690.0" y="190.0" width="16.7" height="29.0" fill="#b4b6b8" />
<rect x="692.0" y="187.0" width="3.0" height="4.0" fill="#333" />
<rect x="700.0" y="187.0" width="3.0" height="4.0" fill="#333" />
<rect x="710.0" y="184.2" width="6.0" height="2.4" fill="#262626" rx="0.3"/>
<rect x="719.8" y="184.2" width="6.0" height="2.4" fill="#262626" rx="0.3"/>
<rect x="729.6" y="184.2" width="6.0" height="2.4" fill="#262626" rx="0.3"/>
<rect x="739.4" y="184.2" width="6.0" height="2.4" fill="#262626" rx="0.3"/>
<rect x="749.2" y="184.2" width="6.0" height="2.4" fill="#262626" rx="0.3"/>
<rect x="759.0" y="184.2" width="6.0" height="2.4" fill="#262626" rx="0.3"/>
<rect x="768.8" y="184.2" width="6.0" height="2.4" fill="#262626" rx="0.3"/>
<rect x="778.6" y="184.2" width="6.0" height="2.4" fill="#262626" rx="0.3"/>
<rect x="788.4" y="184.2" width="6.0" height="2.4" fill="#262626" rx="0.3"/>
<rect x="798.2" y="184.2" width="6.0" height="2.4" fill="#262626" rx="0.3"/>
<rect x="808.0" y="184.2" width="6.0" height="2.4" fill="#262626" rx="0.3"/>
<rect x="817.8" y="184.2" width="6.0" height="2.4" fill="#262626" rx="0.3"/>
<rect x="827.6" y="184.2" width="6.0" height="2.4" fill="#262626" rx="0.3"/>
<rect x="837.4" y="184.2" width="6.0" height="2.4" fill="#262626" rx="0.3"/>
<rect x="721.0" y="193.0" width="1.5" height="10.0" fill="#222" />
<rect x="721.0" y="205.5" width="1.5" height="10.0" fill="#222" />
<rect x="725.0" y="193.0" width="9.2" height="10.0" fill="#161616" rx="0.6"/>
<rect x="725.0" y="205.5" width="9.2" height="10.0" fill="#161616" rx="0.6"/>
<rect x="736.9" y="193.0" width="9.2" height="10.0" fill="#161616" rx="0.6"/>
<rect x="736.9" y="205.5" width="9.2" height="10.0" fill="#161616" rx="0.6"/>
<rect x="748.7" y="193.0" width="9.2" height="10.0" fill="#161616" rx="0.6"/>
<rect x="748.7" y="205.5" width="9.2" height="10.0" fill="#161616" rx="0.6"/>
<rect x="760.5" y="193.0" width="9.2" height="10.0" fill="#161616" rx="0.6"/>
<rect x="760.5" y="205.5" width="9.2" height="10.0" fill="#161616" rx="0.6"/>
<rect x="772.4" y="193.0" width="9.2" height="10.0" fill="#161616" rx="0.6"/>
<rect x="772.4" y="205.5" width="9.2" height="10.0" fill="#161616" rx="0.6"/>
<rect x="784.2" y="193.0" width="9.2" height="10.0" fill="#161616" rx="0.6"/>
<rect x="784.2" y="205.5" width="9.2" height="10.0" fill="#161616" rx="0.6"/>
<rect x="796.1" y="193.0" width="9.2" height="10.0" fill="#161616" rx="0.6"/>
<rect x="796.1" y="205.5" width="9.2" height="10.0" fill="#161616" rx="0.6"/>
<rect x="808.0" y="193.0" width="9.2" height="10.0" fill="#161616" rx="0.6"/>
<rect x="808.0" y="205.5" width="9.2" height="10.0" fill="#161616" rx="0.6"/>
<rect x="819.8" y="193.0" width="9.2" height="10.0" fill="#161616" rx="0.6"/>
<rect x="819.8" y="205.5" width="9.2" height="10.0" fill="#161616" rx="0.6"/>
<rect x="831.6" y="193.0" width="9.2" height="10.0" fill="#161616" rx="0.6"/>
<rect x="831.6" y="205.5" width="9.2" height="10.0" fill="#161616" rx="0.6"/>
<rect x="712.0" y="221.8" width="6.0" height="2.2" fill="#555" rx="0.3"/>
<rect x="721.8" y="221.8" width="6.0" height="2.2" fill="#555" rx="0.3"/>
<rect x="731.6" y="221.8" width="6.0" height="2.2" fill="#555" rx="0.3"/>
<rect x="741.4" y="221.8" width="6.0" height="2.2" fill="#555" rx="0.3"/>
<rect x="751.2" y="221.8" width="6.0" height="2.2" fill="#555" rx="0.3"/>
<rect x="761.0" y="221.8" width="6.0" height="2.2" fill="#555" rx="0.3"/>
<rect x="770.8" y="221.8" width="6.0" height="2.2" fill="#555" rx="0.3"/>
<rect x="780.6" y="221.8" width="6.0" height="2.2" fill="#555" rx="0.3"/>
<rect x="790.4" y="221.8" width="6.0" height="2.2" fill="#555" rx="0.3"/>
<rect x="800.2" y="221.8" width="6.0" height="2.2" fill="#555" rx="0.3"/>
<rect x="810.0" y="221.8" width="6.0" height="2.2" fill="#555" rx="0.3"/>
<rect x="819.8" y="221.8" width="6.0" height="2.2" fill="#555" rx="0.3"/>
<rect x="829.6" y="221.8" width="6.0" height="2.2" fill="#555" rx="0.3"/>
<rect x="839.4" y="221.8" width="6.0" height="2.2" fill="#555" rx="0.3"/>
<circle cx="775.6" cy="203.0" r="11.7" fill="#1f6fc4" />
<circle cx="775.6" cy="203.0" r="8.0" fill="#0a0a0a" />
<text x="775.1" y="207.3" font-size="12" font-weight="bold" fill="#fff" text-anchor="middle">3</text>
<rect x="690.5" y="226.0" width="54.5" height="33.8" fill="#c8cbcd" />
<rect x="692.7" y="237.0" width="6.6" height="6.6" fill="#1c1c1c" rx="0.5"/>
<rect x="692.7" y="246.6" width="6.6" height="6.6" fill="#1c1c1c" rx="0.5"/>
<rect x="702.2" y="237.0" width="6.6" height="6.6" fill="#1c1c1c" rx="0.5"/>
<rect x="702.2" y="246.6" width="6.6" height="6.6" fill="#1c1c1c" rx="0.5"/>
<rect x="711.7" y="237.0" width="6.6" height="6.6" fill="#1c1c1c" rx="0.5"/>
<rect x="711.7" y="246.6" width="6.6" height="6.6" fill="#1c1c1c" rx="0.5"/>
<rect x="722.0" y="237.0" width="6.6" height="6.6" fill="#1c1c1c" rx="0.5"/>
<rect x="722.0" y="246.6" width="6.6" height="6.6" fill="#1c1c1c" rx="0.5"/>
<rect x="692.7" y="231.0" width="6.6" height="3.0" fill="#1c1c1c" rx="0.4"/>
<rect x="702.2" y="231.0" width="6.6" height="3.0" fill="#1c1c1c" rx="0.4"/>
<rect x="711.7" y="231.0" width="6.6" height="3.0" fill="#1c1c1c" rx="0.4"/>
<rect x="722.0" y="231.0" width="6.6" height="3.0" fill="#1c1c1c" rx="0.4"/>
<rect x="692.7" y="256.0" width="6.6" height="3.5" fill="#1c1c1c" rx="0.4"/>
<rect x="702.2" y="256.0" width="6.6" height="3.5" fill="#1c1c1c" rx="0.4"/>
<rect x="711.7" y="256.0" width="6.6" height="3.5" fill="#1c1c1c" rx="0.4"/>
<rect x="722.0" y="256.0" width="6.6" height="3.5" fill="#1c1c1c" rx="0.4"/>
<circle cx="731.4" cy="237.8" r="5.2" fill="#e6e4dc" />
<circle cx="731.4" cy="237.8" r="3.0" fill="#a6a090" />
<circle cx="731.4" cy="237.8" r="1.5" fill="#5a564a" />
<rect x="846.0" y="182.3" width="71.0" height="77.5" fill="#c8cbcd" />
<rect x="848.0" y="190.0" width="7.0" height="36.0" fill="#b8babc" />
<rect x="868.5" y="190.5" width="6.3" height="6.3" fill="#181818" rx="0.5"/>
<rect x="868.5" y="200.5" width="6.3" height="6.3" fill="#181818" rx="0.5"/>
<rect x="868.5" y="210.5" width="6.3" height="6.3" fill="#181818" rx="0.5"/>
<rect x="868.5" y="220.5" width="6.3" height="6.3" fill="#181818" rx="0.5"/>
<rect x="878.5" y="190.5" width="6.3" height="6.3" fill="#181818" rx="0.5"/>
<rect x="878.5" y="200.5" width="6.3" height="6.3" fill="#181818" rx="0.5"/>
<rect x="878.5" y="210.5" width="6.3" height="6.3" fill="#181818" rx="0.5"/>
<rect x="878.5" y="220.5" width="6.3" height="6.3" fill="#181818" rx="0.5"/>
<rect x="888.5" y="190.5" width="6.3" height="6.3" fill="#181818" rx="0.5"/>
<rect x="888.5" y="200.5" width="6.3" height="6.3" fill="#181818" rx="0.5"/>
<rect x="888.5" y="210.5" width="6.3" height="6.3" fill="#181818" rx="0.5"/>
<rect x="888.5" y="220.5" width="6.3" height="6.3" fill="#181818" rx="0.5"/>
<rect x="898.5" y="190.5" width="6.3" height="6.3" fill="#181818" rx="0.5"/>
<rect x="898.5" y="200.5" width="6.3" height="6.3" fill="#181818" rx="0.5"/>
<rect x="898.5" y="210.5" width="6.3" height="6.3" fill="#181818" rx="0.5"/>
<rect x="898.5" y="220.5" width="6.3" height="6.3" fill="#181818" rx="0.5"/>
<rect x="858.0" y="200.5" width="6.3" height="6.3" fill="#181818" rx="0.5"/>
<rect x="858.0" y="210.5" width="6.3" height="6.3" fill="#181818" rx="0.5"/>
<rect x="858.0" y="220.5" width="6.3" height="6.3" fill="#181818" rx="0.5"/>
<rect x="908.5" y="190.5" width="3.0" height="6.0" fill="#1c1c1c" rx="0.3"/>
<rect x="908.5" y="200.5" width="3.0" height="6.0" fill="#1c1c1c" rx="0.3"/>
<rect x="908.5" y="210.5" width="3.0" height="6.0" fill="#1c1c1c" rx="0.3"/>
<rect x="908.5" y="220.5" width="3.0" height="6.0" fill="#1c1c1c" rx="0.3"/>
<rect x="908.5" y="230.5" width="3.0" height="6.0" fill="#1c1c1c" rx="0.3"/>
<rect x="908.5" y="240.5" width="3.0" height="6.0" fill="#1c1c1c" rx="0.3"/>
<circle cx="863.8" cy="189.3" r="5.0" fill="#ececec" />
<circle cx="863.8" cy="189.3" r="2.6" fill="#9a9a9a" />
<rect x="911.0" y="181.0" width="6.0" height="79.0" fill="#a8a8a8" />
<rect x="915.0" y="181.0" width="2.0" height="79.0" fill="#d8d8d8" />
<rect x="745" y="229.5" width="149" height="29.3" rx="3" fill="#cdd0d2" stroke="#6a6a6a" stroke-width="1.1"/>
<rect x="755.0" y="233.2" width="6.6" height="4.8" fill="#161616" rx="0.5"/>
<rect x="764.9" y="233.2" width="6.6" height="4.8" fill="#161616" rx="0.5"/>
<rect x="774.8" y="233.2" width="6.6" height="4.8" fill="#161616" rx="0.5"/>
<rect x="784.7" y="233.2" width="6.6" height="4.8" fill="#161616" rx="0.5"/>
<rect x="794.6" y="233.2" width="6.6" height="4.8" fill="#161616" rx="0.5"/>
<rect x="804.5" y="233.2" width="6.6" height="4.8" fill="#161616" rx="0.5"/>
<rect x="814.4" y="233.2" width="6.6" height="4.8" fill="#161616" rx="0.5"/>
<rect x="824.3" y="233.2" width="6.6" height="4.8" fill="#161616" rx="0.5"/>
<rect x="863.9" y="233.2" width="6.6" height="4.8" fill="#161616" rx="0.5"/>
<rect x="873.8" y="233.2" width="6.6" height="4.8" fill="#161616" rx="0.5"/>
<rect x="883.7" y="233.2" width="6.6" height="4.8" fill="#161616" rx="0.5"/>
<rect x="755.0" y="240.8" width="6.6" height="4.8" fill="#161616" rx="0.5"/>
<rect x="755.0" y="248.2" width="6.6" height="4.8" fill="#161616" rx="0.5"/>
<rect x="764.9" y="240.8" width="6.6" height="4.8" fill="#161616" rx="0.5"/>
<rect x="764.9" y="248.2" width="6.6" height="4.8" fill="#161616" rx="0.5"/>
<rect x="774.8" y="240.8" width="6.6" height="4.8" fill="#161616" rx="0.5"/>
<rect x="774.8" y="248.2" width="6.6" height="4.8" fill="#161616" rx="0.5"/>
<rect x="784.7" y="240.8" width="6.6" height="4.8" fill="#161616" rx="0.5"/>
<rect x="784.7" y="248.2" width="6.6" height="4.8" fill="#161616" rx="0.5"/>
<rect x="794.6" y="240.8" width="6.6" height="4.8" fill="#161616" rx="0.5"/>
<rect x="794.6" y="248.2" width="6.6" height="4.8" fill="#161616" rx="0.5"/>
<rect x="804.5" y="240.8" width="6.6" height="4.8" fill="#161616" rx="0.5"/>
<rect x="804.5" y="248.2" width="6.6" height="4.8" fill="#161616" rx="0.5"/>
<rect x="814.4" y="240.8" width="6.6" height="4.8" fill="#161616" rx="0.5"/>
<rect x="814.4" y="248.2" width="6.6" height="4.8" fill="#161616" rx="0.5"/>
<rect x="824.3" y="240.8" width="6.6" height="4.8" fill="#161616" rx="0.5"/>
<rect x="824.3" y="248.2" width="6.6" height="4.8" fill="#161616" rx="0.5"/>
<rect x="834.2" y="240.8" width="6.6" height="4.8" fill="#161616" rx="0.5"/>
<rect x="834.2" y="248.2" width="6.6" height="4.8" fill="#161616" rx="0.5"/>
<rect x="844.1" y="240.8" width="6.6" height="4.8" fill="#161616" rx="0.5"/>
<rect x="844.1" y="248.2" width="6.6" height="4.8" fill="#161616" rx="0.5"/>
<rect x="854.0" y="240.8" width="6.6" height="4.8" fill="#161616" rx="0.5"/>
<rect x="854.0" y="248.2" width="6.6" height="4.8" fill="#161616" rx="0.5"/>
<rect x="863.9" y="240.8" width="6.6" height="4.8" fill="#161616" rx="0.5"/>
<rect x="863.9" y="248.2" width="6.6" height="4.8" fill="#161616" rx="0.5"/>
<rect x="873.8" y="240.8" width="6.6" height="4.8" fill="#161616" rx="0.5"/>
<rect x="873.8" y="248.2" width="6.6" height="4.8" fill="#161616" rx="0.5"/>
<rect x="883.7" y="240.8" width="6.6" height="4.8" fill="#161616" rx="0.5"/>
<rect x="883.7" y="248.2" width="6.6" height="4.8" fill="#161616" rx="0.5"/>
<rect x="832.0" y="230.5" width="29.0" height="8.5" fill="#d0d0d0" />
<circle cx="805.8" cy="245.0" r="12.0" fill="#d81818" />
<circle cx="805.8" cy="245.0" r="8.2" fill="#0a0a0a" />
<text x="805.3" y="249.3" font-size="12" font-weight="bold" fill="#fff" text-anchor="middle">A</text>
<circle cx="902.4" cy="247.0" r="9.4" fill="#94b8ee" />
<circle cx="902.4" cy="247.0" r="6.5" fill="#b4cef4" />
<circle cx="902.4" cy="247.0" r="3.0" fill="#e0e8f2" />
<polyline points="130.2,263 128.8,341" fill="none" stroke="#f0ba14" stroke-width="2.9" stroke-linejoin="miter"/>
<polyline points="327.3,263 327.3,297" fill="none" stroke="#f0ba14" stroke-width="2.9" stroke-linejoin="miter"/>
<polyline points="400.8,263 400.8,361.5 368,361.5" fill="none" stroke="#f0ba14" stroke-width="2.9" stroke-linejoin="miter"/>
<polyline points="447.6,263 447.6,391 338.7,391" fill="none" stroke="#f0ba14" stroke-width="2.9" stroke-linejoin="miter"/>
<polyline points="504.7,263 504.7,393 613.7,393" fill="none" stroke="#f0ba14" stroke-width="2.9" stroke-linejoin="miter"/>
<polyline points="557,261 557,360.7 608.5,360.7" fill="none" stroke="#f0ba14" stroke-width="2.9" stroke-linejoin="miter"/>
<polyline points="644,259 644,293.5" fill="none" stroke="#f0ba14" stroke-width="2.9" stroke-linejoin="miter"/>
<text x="39.4" y="360.8" font-size="16.3" fill="#222" stroke="#222" stroke-width="0.22" >2x 800W Platinum&#160; Level</text>
<text x="79.2" y="380.6" font-size="16.3" fill="#222" stroke="#222" stroke-width="0.22" >Power Supply</text>
<text x="242.1" y="314.6" font-size="16.6" fill="#222" stroke="#222" stroke-width="0.22" >1 Micro USB Port</text>
<text x="241.5" y="334.4" font-size="16.6" fill="#222" stroke="#222" stroke-width="0.22" >(COM Port)</text>
<text x="242.1" y="365.6" font-size="16.7" fill="#222" stroke="#222" stroke-width="0.22" >2 USB3.0 Ports</text>
<text x="242.9" y="396.2" font-size="16.6" fill="#222" stroke="#222" stroke-width="0.22" >1 VGA Port</text>
<text x="614.1" y="315.8" font-size="16.2" fill="#222" stroke="#222" stroke-width="0.22" textLength="80" lengthAdjust="spacing">UID&#160; Button</text>
<text x="618.5" y="364.4" font-size="16.2" fill="#222" stroke="#222" stroke-width="0.22" >2 25GbE Mellanox&#160; ConnectX-4&#160; SFP28</text>
<text x="619.2" y="397.7" font-size="16.2" fill="#222" stroke="#222" stroke-width="0.22" >1 Dedicated IPMI&#160; LAN Port</text>
<rect x="263.0" y="484.0" width="445.0" height="42.0" fill="#cecece" />
<rect x="263.0" y="553.0" width="445.0" height="26.5" fill="#cecece" />
<rect x="262.7" y="455.5" width="446" height="151.5" fill="none" stroke="#2a2a2a" stroke-width="1.6"/>
<rect x="262.3" y="481.0" width="446.0" height="3.0" fill="#0a0a0a" />
<rect x="262.3" y="525.9" width="446.0" height="1.5" fill="#2a2a2a" />
<rect x="262.3" y="552.0" width="446.0" height="1.5" fill="#2a2a2a" />
<rect x="262.3" y="579.0" width="446.0" height="1.5" fill="#2a2a2a" />
<rect x="361.7" y="455.5" width="2.0" height="151.5" fill="#2a2a2a" />
<text x="300.2" y="474.2" font-size="14.6" fill="#111" font-weight="bold" textLength="26" lengthAdjust="spacingAndGlyphs">Slot</text>
<text x="498.2" y="474.0" font-size="14.6" fill="#111" font-weight="bold" textLength="73.8" lengthAdjust="spacingAndGlyphs">Description</text>
<text x="372.5" y="500.6" font-size="15.3" fill="#222" stroke="#222" stroke-width="0.1" textLength="312.6" lengthAdjust="spacingAndGlyphs">PCI-E 4.0 x16 Low Profile Slot (Occupied by AOM-</text>
<text x="372.3" y="517.2" font-size="15.3" fill="#222" stroke="#222" stroke-width="0.1" textLength="209.8" lengthAdjust="spacingAndGlyphs">S3224-DPD-L&#160; or AOM-S3216-1-L)</text>
<text x="372.3" y="544.6" font-size="15.3" fill="#222" stroke="#222" stroke-width="0.1" textLength="178.8" lengthAdjust="spacingAndGlyphs">PCI-E 4.0 x8 Low Profile Slot</text>
<text x="372.3" y="571.3" font-size="15.3" fill="#222" stroke="#222" stroke-width="0.1" textLength="186.5" lengthAdjust="spacingAndGlyphs">PCI-E 4.0 x16 Low Profile Slot</text>
<text x="372.3" y="598.1" font-size="15.3" fill="#222" stroke="#222" stroke-width="0.1" textLength="153.8" lengthAdjust="spacingAndGlyphs">AIOM Slot PCI-E 4.0 x16</text>
<circle cx="314.2" cy="504.7" r="11.6" fill="#d41414" />
<circle cx="314.2" cy="504.7" r="7.1" fill="#0a0a0a" />
<path d="M316.18,500.74 L316.18,508.66 L313.98,508.66 L313.98,503.12 Q312.66,504.07 311.12,504.22 L311.12,502.88 Q313.32,502.17 314.42,500.74 Z" fill="#fff"/>
<circle cx="313.0" cy="538.7" r="11.6" fill="#d41414" />
<circle cx="313.0" cy="538.7" r="7.1" fill="#0a0a0a" />
<text x="312.5" y="542.7" font-size="11" font-weight="bold" fill="#fff" text-anchor="middle">2</text>
<circle cx="314.0" cy="566.2" r="11.6" fill="#1f6fc4" />
<circle cx="314.0" cy="566.2" r="7.1" fill="#0a0a0a" />
<text x="313.5" y="570.2" font-size="11" font-weight="bold" fill="#fff" text-anchor="middle">3</text>
<circle cx="313.0" cy="593.2" r="11.6" fill="#d41414" />
<circle cx="313.0" cy="593.2" r="7.1" fill="#0a0a0a" />
<text x="312.5" y="597.2" font-size="11" font-weight="bold" fill="#fff" text-anchor="middle">A</text>
<text x="611.6" y="622.6" font-size="10.5" fill="#1a1a1a" font-weight="bold" textLength="25.8" lengthAdjust="spacingAndGlyphs" stroke="#1a1a1a" stroke-width="0.25">CPU1</text>
<rect x="640.5" y="613.2" width="15.5" height="10.8" fill="#ff0000" />
<text x="661.9" y="622.6" font-size="10.5" fill="#1a1a1a" font-weight="bold" textLength="25.8" lengthAdjust="spacingAndGlyphs" stroke="#1a1a1a" stroke-width="0.25">CPU2</text>
<rect x="691.0" y="613.2" width="15.5" height="10.8" fill="#1170c8" />
</svg>
</body></html>
